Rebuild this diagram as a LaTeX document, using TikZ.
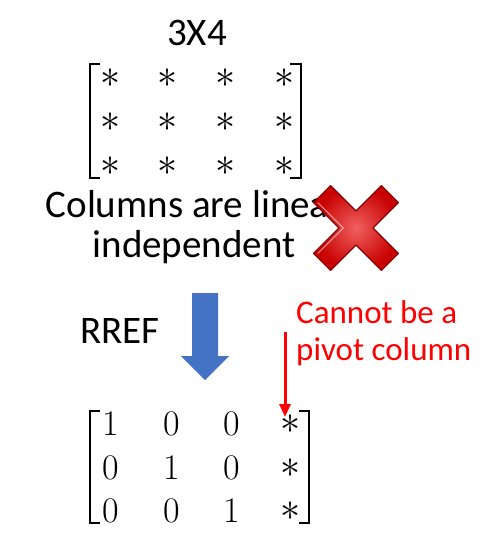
\documentclass[tikz,border=0pt]{standalone}
\usepackage{fontspec}
\usepackage{graphicx}
\setmainfont{Carlito}
\newfontfamily\lmr{Latin Modern Roman}
\usetikzlibrary{arrows.meta}
\definecolor{arrowblue}{HTML}{4472C4}
\definecolor{xdark}{HTML}{8A0000}
\definecolor{xmid}{HTML}{C80000}
\definecolor{xlight}{HTML}{F06060}
\newcommand{\bigast}{{\fontsize{10}{12}\selectfont\scalebox{4.0}{$\ast$}}}
\begin{document}
\begin{tikzpicture}[x=1pt,y=-1pt,
  lbl/.style={font=\fontsize{39}{42}\selectfont, inner sep=0pt, anchor=base},
  redlbl/.style={font=\fontsize{33}{36}\selectfont, text=red, inner sep=0pt, anchor=base west},
  ent/.style={font=\lmr\fontsize{36}{40}\selectfont, inner sep=0pt},
  brk/.style={line width=2.6pt, line cap=butt, line join=miter}]
\useasboundingbox (0,0) rectangle (481,559);
\fill[white] (0,0) rectangle (481,559);
% title
\node[lbl] (title) at (197,46) {3X4};
% top matrix
\foreach \r/\y in {1/78,2/122,3/166}{
  \foreach \c/\x in {1/110,2/167,3/225,4/284}{
    \node[ent] (a\r\c) at (\x,\y) {\bigast};
  }
}
\draw[brk] (100,64) -- (90,64) -- (90,178) -- (100,178);
\draw[brk] (290,64) -- (301,64) -- (301,178) -- (290,178);
% text
\node[lbl] (t1) at (194,217) {Columns are linear};
\node[lbl] (t2) at (194,257) {independent};
% red X
\begin{scope}[shift={(356,228)}, rotate=45]
  \path[draw=xdark, line width=1.2pt, line join=round,
        inner color=xlight, outer color=xmid]
    (-48,-12) -- (-12,-12) -- (-12,-48) -- (12,-48) -- (12,-12) -- (48,-12)
    -- (48,12) -- (12,12) -- (12,48) -- (-12,48) -- (-12,12) -- (-48,12) -- cycle;
  \draw[white, opacity=0.6, line width=0.8pt]
    (-45,-9) -- (-9,-9) -- (-9,-45);
\end{scope}
% RREF and blue arrow
\node[lbl] (rref) at (120,343) {RREF};
\fill[arrowblue] (192,293) -- (218,293) -- (218,356) -- (229,356) -- (205,380)
  -- (181,356) -- (192,356) -- cycle;
% red label
\node[redlbl] (c1) at (296,323) {Cannot be a};
\node[redlbl] (c2) at (296,360) {pivot column};
% bottom matrix
\foreach \r/\y/\a/\b/\cc in {1/424/1/0/0, 2/468/0/1/0, 3/511/0/0/1}{
  \node[ent] (b\r1) at (111,\y) {\a};
  \node[ent] (b\r2) at (172,\y) {\b};
  \node[ent] (b\r3) at (232,\y) {\cc};
  \node[ent] (b\r4) at (290,\y) {\bigast};
}
\draw[brk] (100,411) -- (90,411) -- (90,523) -- (100,523);
\draw[brk] (299,411) -- (309,411) -- (309,523) -- (299,523);
% red pointer
\coordinate (ps) at (285,332);
\coordinate (pe) at (285,417);
\draw[red, line width=3pt, -{Triangle[width=11pt,length=13pt]}] (ps) -- (pe);
\end{tikzpicture}
\end{document}
